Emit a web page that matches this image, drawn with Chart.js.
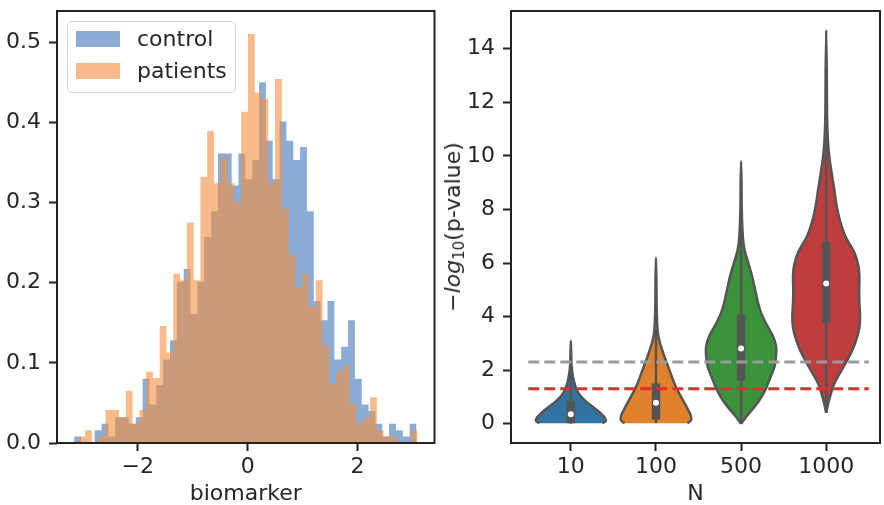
<!DOCTYPE html>
<html>
<head>
<meta charset="utf-8">
<script src="https://cdn.jsdelivr.net/npm/chart.js@4.4.1/dist/chart.umd.min.js"></script>
<style>
  html, body { margin: 0; padding: 0; background: #fff; }
  #wrap { position: relative; width: 884px; height: 505px; overflow: hidden; font-family: 'DejaVu Sans', sans-serif; color: #262626; }
  canvas { position: absolute; top: 0; }
  #hist { left: 0; }
  #violin { left: 442px; }
  .legend { position: absolute; left: 67px; top: 21px; width: 169px; height: 72px; box-sizing: border-box;
            border: 1.5px solid #d6d6d6; border-radius: 5px; background: rgba(255,255,255,0.8); }
  .legend .row { position: absolute; left: 0; height: 26px; font-size: 22px; line-height: 26px; white-space: nowrap; }
  .legend .swatch { position: absolute; left: 8px; top: 5px; width: 44px; height: 16px; }
  .legend .label { position: absolute; left: 69px; top: 0; }
  #ylab { position: absolute; left: 453px; top: 227px; transform: translate(-50%, -50%) rotate(-90deg);
          font-size: 22px; line-height: 26px; white-space: nowrap; }
  #ylab sub { font-size: 15px; vertical-align: -4px; line-height: 0; }
</style>
</head>
<body>
<div id="wrap">
  <canvas id="hist" width="442" height="505"></canvas>
  <canvas id="violin" width="442" height="505"></canvas>
  <div class="legend">
    <div class="row" style="top:4px"><span class="swatch" id="sw0"></span><span class="label">control</span></div>
    <div class="row" style="top:36px"><span class="swatch" id="sw1"></span><span class="label">patients</span></div>
  </div>
  <div id="ylab">&minus;<i>log</i><sub>10</sub>(p-value)</div>
</div>
<script>
// ---- left panel: histograms (density) ----
const histTicksX = [-2, 0, 2];
const histTicksY = [0, 0.1, 0.2, 0.3, 0.4, 0.5];

const controlStart = -3.158, controlBinWidth = 0.12462;
const controlDensity = [
  0.008, 0, 0, 0.016, 0.024, 0.008, 0.032, 0.032, 0.024, 0.032,
  0.080, 0.048, 0.072, 0.104, 0.128, 0.201, 0.217, 0.161, 0.201, 0.257,
  0.289, 0.361, 0.361, 0.321, 0.361, 0.329, 0.353, 0.450, 0.377, 0.329,
  0.401, 0.377, 0.353, 0.369, 0.289, 0.177, 0.153, 0.177, 0.104, 0.120,
  0.153, 0.080, 0.048, 0.040, 0.024, 0.008, 0.024, 0.016, 0.008, 0.024
];

const patientsStart = -3.082, patientsBinWidth = 0.12346;
const patientsDensity = [
  0.008, 0.016, 0, 0.008, 0.041, 0.041, 0.032, 0.065, 0.024, 0.041,
  0.089, 0.081, 0.146, 0.113, 0.211, 0.203, 0.275, 0.203, 0.332, 0.389,
  0.324, 0.356, 0.324, 0.300, 0.413, 0.510, 0.437, 0.429, 0.324, 0.454,
  0.292, 0.235, 0.194, 0.211, 0.170, 0.203, 0.122, 0.073, 0.089, 0.097,
  0.049, 0.024, 0.032, 0.057, 0.016, 0.008, 0.008, 0, 0, 0.016
];

const controlFill = 'rgba(62,116,184,0.6)';
const patientsFill = 'rgba(245,142,62,0.6)';

// ---- right panel: violins of -log10(p) per sample size ----
const groups = ['10', '100', '500', '1000'];
const groupColors = ['#3274a1', '#e1812c', '#3a923a', '#c03d3e'];
const violinTicksY = [0, 2, 4, 6, 8, 10, 12, 14];

// density outline: y levels and half widths (in category units)
const violinY = [
  [0.02, 0.1, 0.22, 0.36, 0.5, 0.65, 0.85, 1.05, 1.3, 1.6, 1.9, 2.2, 2.6, 3.1],
  [0.02, 0.12, 0.3, 0.5, 0.75, 1.0, 1.3, 1.6, 1.9, 2.2, 2.5, 2.8, 3.1, 3.4, 3.9, 4.6, 5.4, 6.2],
  [0, 0.3, 0.6, 0.9, 1.3, 1.7, 2.1, 2.5, 2.9, 3.3, 3.7, 4.1, 4.5, 5.0, 5.5, 6.0, 6.5, 7.0, 8.0, 9.0, 9.8],
  [0.41, 0.9, 1.5, 2.1, 2.7, 3.2, 3.6, 4.0, 4.5, 5.0, 5.5, 5.9, 6.4, 7.0, 7.6, 8.2, 8.8, 9.4, 10.0, 10.6, 11.5, 13.0, 14.7]
];
const violinHalf = [
  [0.37, 0.41, 0.40, 0.36, 0.31, 0.25, 0.17, 0.11, 0.065, 0.035, 0.018, 0.008, 0.004, 0],
  [0.37, 0.41, 0.41, 0.38, 0.34, 0.295, 0.245, 0.205, 0.17, 0.135, 0.10, 0.068, 0.04, 0.022, 0.012, 0.007, 0.005, 0],
  [0, 0.07, 0.15, 0.22, 0.29, 0.34, 0.39, 0.41, 0.41, 0.37, 0.30, 0.24, 0.20, 0.165, 0.13, 0.085, 0.04, 0.02, 0.008, 0.005, 0],
  [0, 0.035, 0.095, 0.2, 0.30, 0.36, 0.39, 0.398, 0.39, 0.387, 0.39, 0.378, 0.33, 0.225, 0.16, 0.12, 0.092, 0.062, 0.035, 0.02, 0.01, 0.007, 0]
];

const boxQ1 = [0.02, 0.15, 1.6, 3.78];
const boxQ3 = [0.85, 1.5, 4.08, 6.8];
const medians = [0.35, 0.78, 2.81, 5.24];
const whiskerLo = [0.0, 0.02, 0.0, 0.41];
const whiskerHi = [2.1, 3.5, 7.8, 11.3];

const thresholds = [2.301, 1.301];        // p = 0.005, p = 0.05
const thresholdColors = ['#9b9b9b', '#e62a2e'];

const ink = '#262626';
const outline = '#555555';
Chart.defaults.font.family = "'DejaVu Sans', sans-serif";
Chart.defaults.font.size = 22;
Chart.defaults.color = ink;

document.getElementById('sw0').style.background = controlFill;
document.getElementById('sw1').style.background = patientsFill;

const framePlugin = {
  id: 'frame',
  afterDatasetsDraw(chart) {
    const { ctx, chartArea: a } = chart;
    ctx.save();
    ctx.strokeStyle = '#222';
    ctx.lineWidth = 2;
    ctx.strokeRect(a.left, a.top, a.right - a.left, a.bottom - a.top);
    ctx.restore();
  }
};

const minus = v => (v < 0 ? '\u2212' + Math.abs(v) : String(v));

function stepPoints(start, width, dens) {
  const pts = dens.map((d, i) => ({ x: start + i * width, y: d }));
  pts.push({ x: start + dens.length * width, y: 0 });
  return pts;
}

function axisX(min, max, ticks, fmt, title) {
  return {
    type: 'linear', min, max,
    afterBuildTicks: s => { s.ticks = ticks.map(v => ({ value: v })); },
    afterFit: s => { s.height = 62; s.paddingLeft = 0; s.paddingRight = 0; },
    ticks: { callback: fmt, padding: 3, autoSkip: false, maxRotation: 0 },
    grid: { drawOnChartArea: false, tickLength: 8, tickWidth: 2, tickColor: '#222' },
    border: { display: false },
    title: { display: true, text: title, padding: { top: 0, bottom: -2 } }
  };
}

function axisY(min, max, ticks, fmt, width) {
  return {
    type: 'linear', min, max,
    afterBuildTicks: s => { s.ticks = ticks.map(v => ({ value: v })); },
    afterFit: s => { s.width = width; s.paddingTop = 0; s.paddingBottom = 0; },
    ticks: { callback: fmt, padding: 8, autoSkip: false },
    grid: { drawOnChartArea: false, tickLength: 8, tickWidth: 2, tickColor: '#222' },
    border: { display: false }
  };
}

const common = {
  responsive: false,
  animation: false,
  plugins: { legend: { display: false }, tooltip: { enabled: false } }
};

new Chart(document.getElementById('hist'), {
  type: 'scatter',
  data: {
    datasets: [
      { label: 'patients', data: stepPoints(patientsStart, patientsBinWidth, patientsDensity),
        showLine: true, stepped: true, fill: 'origin', backgroundColor: patientsFill,
        borderColor: 'rgba(0,0,0,0)', borderWidth: 0, pointRadius: 0, order: 1 },
      { label: 'control', data: stepPoints(controlStart, controlBinWidth, controlDensity),
        showLine: true, stepped: true, fill: 'origin', backgroundColor: controlFill,
        borderColor: 'rgba(0,0,0,0)', borderWidth: 0, pointRadius: 0, order: 2 }
    ]
  },
  options: {
    ...common,
    layout: { padding: { left: 0, top: 11, right: 7.5, bottom: 0 } },
    scales: {
      x: axisX(-3.47, 3.40, histTicksX, minus, 'biomarker'),
      y: axisY(0, 0.5387, histTicksY, v => v.toFixed(1), 57)
    }
  },
  plugins: [framePlugin]
});

const violinSets = [];
groups.forEach((g, i) => {
  const ys = violinY[i], ws = violinHalf[i];
  const right = ys.map((y, k) => ({ x: i + ws[k], y }));
  const left = ys.map((y, k) => ({ x: i - ws[k], y })).reverse().slice(1);
  violinSets.push({
    label: g, data: right.concat(left), showLine: true, fill: 'shape',
    backgroundColor: groupColors[i], borderColor: outline, borderWidth: 2.5,
    borderJoinStyle: 'round', tension: 0.25, pointRadius: 0, order: 10
  });
  violinSets.push({
    data: [{ x: i, y: whiskerLo[i] }, { x: i, y: whiskerHi[i] }], showLine: true,
    borderColor: outline, borderWidth: 2.5, pointRadius: 0, order: 6
  });
  violinSets.push({
    data: [{ x: i, y: boxQ1[i] }, { x: i, y: boxQ3[i] }], showLine: true,
    borderColor: outline, borderWidth: 8.5, borderCapStyle: 'butt', pointRadius: 0, order: 5
  });
  violinSets.push({
    data: [{ x: i, y: medians[i] }], pointRadius: 3, pointBackgroundColor: '#fff',
    pointBorderWidth: 0, order: 4
  });
});
thresholds.forEach((t, k) => {
  violinSets.push({
    data: [{ x: -0.5, y: t }, { x: 3.5, y: t }], showLine: true,
    borderColor: thresholdColors[k], borderWidth: 3, borderDash: [11, 5],
    pointRadius: 0, order: 1
  });
});

new Chart(document.getElementById('violin'), {
  type: 'scatter',
  data: { datasets: violinSets },
  options: {
    ...common,
    layout: { padding: { left: 0, top: 11, right: 1, bottom: 0 } },
    scales: {
      x: axisX(-0.703, 3.632, [0, 1, 2, 3], v => groups[v], 'N'),
      y: axisY(-0.72, 15.41, violinTicksY, v => String(v), 69)
    }
  },
  plugins: [framePlugin]
});
</script>
</body>
</html>
